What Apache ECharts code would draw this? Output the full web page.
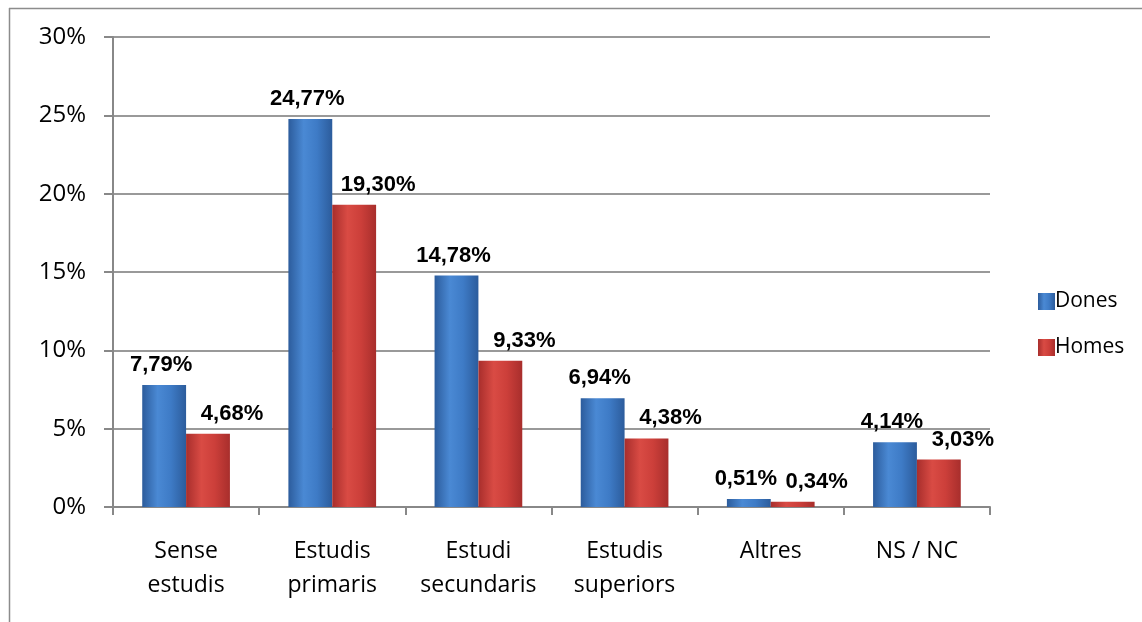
<!DOCTYPE html>
<html>
<head>
<meta charset="utf-8">
<script src="https://cdn.jsdelivr.net/npm/echarts@6/dist/echarts.min.js"></script>
<style>
  html, body { margin: 0; padding: 0; background: #fff; }
  #main { width: 1142px; height: 622px; }
</style>
</head>
<body>
<div id="main"></div>
<script>
  // chart data
  var categories = ['Sense\nestudis', 'Estudis\nprimaris', 'Estudi\nsecundaris', 'Estudis\nsuperiors', 'Altres', 'NS / NC'];
  var dones = [7.79, 24.77, 14.78, 6.94, 0.51, 4.14];
  var homes = [4.68, 19.30, 9.33, 4.38, 0.34, 3.03];
  var yTicks = [0, 5, 10, 15, 20, 25, 30];

  var fmt = function(v) {
    return v.toFixed(2).replace('.', ',') + '%';
  };

  var grad = function(edge, mid, hi) {
    return new echarts.graphic.LinearGradient(0, 0, 1, 0, [
      { offset: 0, color: edge },
      { offset: 0.35, color: hi },
      { offset: 0.65, color: mid },
      { offset: 1, color: edge }
    ]);
  };

  var labelStyle = function(dx) {
    return {
      show: true,
      position: 'top',
      distance: 9,
      offset: [dx, 0],
      fontFamily: 'Liberation Sans, Arial, sans-serif',
      fontWeight: 'bold',
      fontSize: 22,
      color: '#000',
      formatter: function(p) { return fmt(p.value); }
    };
  };

  var myChart = echarts.init(document.getElementById('main'));

  var option = {
    animation: false,
    graphic: [
      { type: 'line', shape: { x1: 9, y1: 8.5, x2: 1142, y2: 8.5 }, style: { stroke: '#8c8c8c', lineWidth: 1.5 } },
      { type: 'line', shape: { x1: 9.5, y1: 8, x2: 9.5, y2: 622 }, style: { stroke: '#8c8c8c', lineWidth: 1.5 } }
    ],
    legend: {
      orient: 'vertical',
      left: 1033,
      top: 286,
      itemWidth: 17,
      itemHeight: 17,
      itemGap: 25,
      icon: 'rect',
      textStyle: {
        fontFamily: 'Open Sans, Noto Sans, sans-serif',
        fontSize: 21,
        color: '#000',
        padding: [0, 0, 0, -5]
      },
      data: ['Dones', 'Homes']
    },
    grid: {
      left: 113,
      right: 152,
      top: 37,
      bottom: 115,
      containLabel: false
    },
    xAxis: {
      type: 'category',
      data: categories,
      axisLine: { lineStyle: { color: '#888', width: 2 } },
      axisTick: { show: true, length: 8, lineStyle: { color: '#888', width: 2 } },
      axisLabel: {
        margin: 27,
        fontFamily: 'Open Sans, Noto Sans, sans-serif',
        fontSize: 23,
        lineHeight: 34,
        color: '#000',
        interval: 0
      }
    },
    yAxis: {
      type: 'value',
      min: 0,
      max: 30,
      interval: 5,
      axisLine: { show: true, lineStyle: { color: '#888', width: 2 } },
      axisTick: { show: true, length: 9, lineStyle: { color: '#888', width: 2 } },
      splitLine: { lineStyle: { color: '#999', width: 2 } },
      axisLabel: {
        margin: 27,
        fontFamily: 'Open Sans, Noto Sans, sans-serif',
        fontSize: 24,
        color: '#000',
        formatter: function(v) { return v + '%'; }
      }
    },
    series: [{
      name: 'Dones',
      type: 'bar',
      data: dones,
      barGap: '0%',
      barCategoryGap: '40%',
      itemStyle: { color: grad('#2c5c9c', '#3e7bc6', '#4a89d4') },
      label: labelStyle(-3)
    }, {
      name: 'Homes',
      type: 'bar',
      data: homes,
      itemStyle: { color: grad('#a82e2c', '#cc3f3a', '#d94b44') },
      label: labelStyle(24)
    }]
  };

  myChart.setOption(option);
</script>
</body>
</html>
